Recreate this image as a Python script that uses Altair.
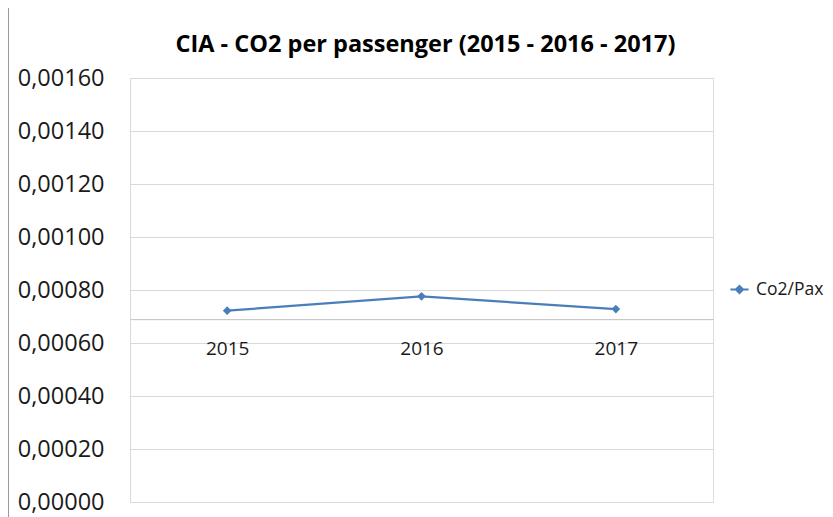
import altair as alt
import pandas as pd

years = ["2015", "2016", "2017"]
co2_per_pax = [0.000722, 0.000776, 0.000728]
series_name = "Co2/Pax"
title_text = "CIA - CO2 per passenger (2015 - 2016 - 2017)"
y_ticks = [0.0, 0.0002, 0.0004, 0.0006, 0.0008, 0.0010, 0.0012, 0.0014, 0.0016]
axis_cross = 0.00069

df = pd.DataFrame({"year": years, "value": co2_per_pax, "series": [series_name] * 3})
title_df = pd.DataFrame({"t": [title_text]})

W, H = 583, 424
YMAX = 0.0016
FONT = "Open Sans"
BLUE = "#4a7ebb"

x_offset = -H * axis_cross / YMAX

base = alt.Chart(df)

line = base.mark_line(
    color=BLUE, strokeWidth=2.25,
    point=alt.OverlayMarkDef(shape="diamond", size=75, filled=True, color=BLUE),
).encode(
    x=alt.X("year:N", sort=years, title=None,
            scale=alt.Scale(paddingInner=0, paddingOuter=0.5),
            axis=alt.Axis(orient="bottom", offset=x_offset, labelAngle=0,
                          domainColor="#bfbfbf", domainWidth=1, ticks=False,
                          grid=False, labelFont=FONT, labelFontSize=19,
                          labelColor="#1a1a1a", labelPadding=20)),
    y=alt.Y("value:Q", title=None,
            scale=alt.Scale(domain=[0, YMAX], nice=False, zero=True),
            axis=alt.Axis(values=y_ticks, labelExpr="replace(format(datum.value, '.5f'), '.', ',')",
                          grid=True, gridColor="#d9d9d9", gridWidth=1,
                          domainColor="#d9d9d9", ticks=False, tickSize=0,
                          labelFont=FONT, labelFontSize=23.5, labelColor="#1a1a1a",
                          labelPadding=26)),
    color=alt.Color("series:N", title=None,
                    scale=alt.Scale(range=[BLUE]),
                    legend=alt.Legend(orient="none", legendX=599, legendY=201,
                                      symbolType="M-1,0H1M0,-0.4L0.4,0L0,0.4L-0.4,0Z",
                                      symbolSize=330, symbolStrokeWidth=2,
                                      symbolStrokeColor=BLUE, symbolFillColor=BLUE,
                                      labelFont=FONT, labelFontSize=17.5,
                                      labelColor="#1a1a1a", padding=0, labelOffset=6)),
)

border = alt.Chart(df).mark_rule(color="#8c8c8c", strokeWidth=1).encode(
    x=alt.value(-122), y=alt.value(-78), y2=alt.value(H + 20)
)

title = alt.Chart(title_df).mark_text(
    font=FONT, fontSize=23.5, fontWeight="bold", color="#000000",
    align="center", baseline="alphabetic",
).encode(text="t:N", x=alt.value(W / 2 + 4), y=alt.value(-26))

chart = alt.layer(line, border, title).properties(
    width=W, height=H,
    autosize=alt.AutoSizeParams(type="none"),
    padding={"left": 122, "top": 70, "right": 112, "bottom": 15},
).configure_view(stroke=None).configure(background="white")

chart.save("out.html", embed_options={"renderer": "svg", "actions": False})
